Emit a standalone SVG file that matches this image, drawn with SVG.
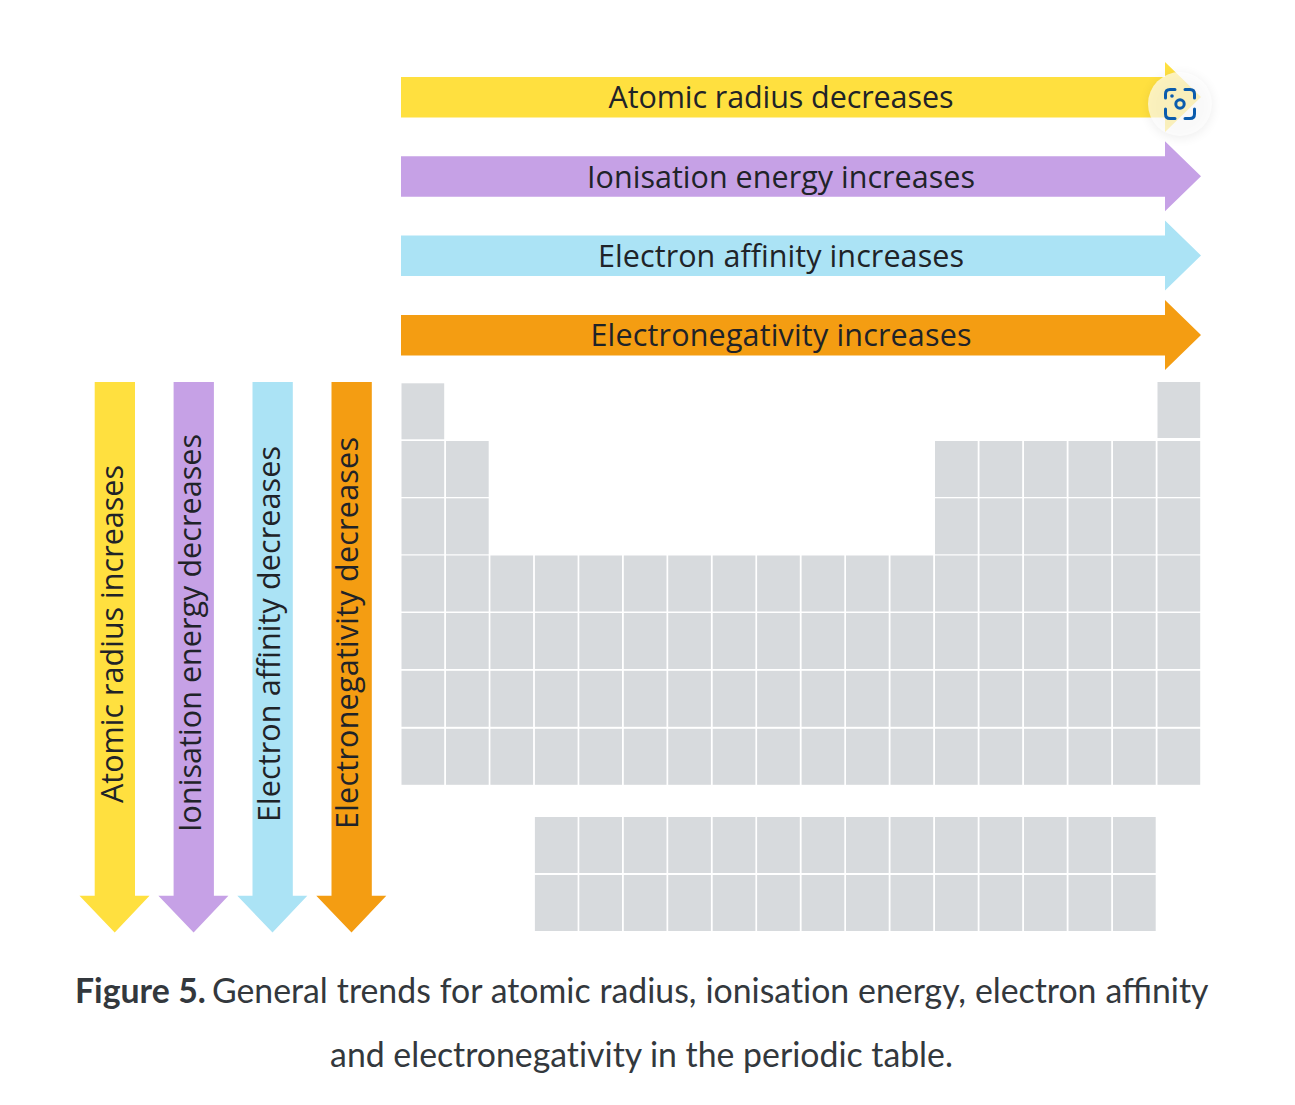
<svg xmlns="http://www.w3.org/2000/svg" width="1295" height="1105" viewBox="0 0 1295 1105">
<style>
.c{fill:#d7dadd}
.t{font-family:"Open Sans","Noto Sans",sans-serif;font-size:30.500px;fill:#1f2328;text-anchor:middle;font-variant-ligatures:common-ligatures}
.cap{font-family:Lato,sans-serif;font-size:33.800px;fill:#33383d;font-variant-ligatures:none}
.lig{font-variant-ligatures:common-ligatures}
.y{fill:#ffe03f}.p{fill:#c6a1e6}.b{fill:#abe3f5}.o{fill:#f49d12}
</style>
<defs>
<rect id="cell" class="c" width="42.7" height="56"/>
<path id="h" d="M401 77H1165V62L1201 97L1165 132V117.500H401Z"/>
<path id="v" d="M94.700 382H135V895.700H149.500L114.700 932.500L79.500 895.700H94.700Z"/>
<filter id="sh" x="-40%" y="-40%" width="180%" height="180%"><feGaussianBlur stdDeviation="6"/></filter>
</defs>
<rect width="1295" height="1105" fill="#fff"/>
<g id="horizontal-arrows">
<g id="h-radius"><use href="#h" class="y"/><text class="t" x="781" y="108" textLength="345" lengthAdjust="spacing">Atomic radius decreases</text></g>
<g id="h-ionisation"><use href="#h" y="79.300" class="p"/><text class="t" x="781" y="188" textLength="388" lengthAdjust="spacing">Ionisation energy increases</text></g>
<g id="h-affinity"><use href="#h" y="158.600" class="b"/><text class="t" x="781" y="267" textLength="366" lengthAdjust="spacing">Electron affinity increases</text></g>
<g id="h-electronegativity"><use href="#h" y="238" class="o"/><text class="t" x="781" y="346" textLength="381" lengthAdjust="spacing">Electronegativity increases</text></g>
</g>
<g id="vertical-arrows">
<g id="v-radius"><use href="#v" class="y"/><text class="t" transform="translate(123 634) rotate(-90)" textLength="338" lengthAdjust="spacing">Atomic radius increases</text></g>
<g id="v-ionisation"><use href="#v" x="78.900" class="p"/><text class="t" transform="translate(201 633) rotate(-90)" textLength="398" lengthAdjust="spacing">Ionisation energy decreases</text></g>
<g id="v-affinity"><use href="#v" x="157.800" class="b"/><text class="t" transform="translate(280 634) rotate(-90)" textLength="376" lengthAdjust="spacing">Electron affinity decreases</text></g>
<g id="v-electronegativity"><use href="#v" x="236.800" class="o"/><text class="t" transform="translate(358 633) rotate(-90)" textLength="392" lengthAdjust="spacing">Electronegativity decreases</text></g>
</g>
<g id="periodic-table">
<use href="#cell" x="401.500" y="383.300"/><use href="#cell" x="1157.500" y="382"/>
<g id="row2"><use href="#cell" x="401.500" y="441"/><use href="#cell" x="446" y="441"/><use href="#cell" x="935" y="441"/><use href="#cell" x="979.500" y="441"/><use href="#cell" x="1024" y="441"/><use href="#cell" x="1068.500" y="441"/><use href="#cell" x="1113" y="441"/><use href="#cell" x="1157.500" y="441"/></g>
<g id="row3"><use href="#cell" x="401.500" y="498.300"/><use href="#cell" x="446" y="498.300"/><use href="#cell" x="935" y="498.300"/><use href="#cell" x="979.500" y="498.300"/><use href="#cell" x="1024" y="498.300"/><use href="#cell" x="1068.500" y="498.300"/><use href="#cell" x="1113" y="498.300"/><use href="#cell" x="1157.500" y="498.300"/></g>
<g id="row4"><use href="#cell" x="401.500" y="555.500"/><use href="#cell" x="446" y="555.500"/><use href="#cell" x="490.400" y="555.500"/><use href="#cell" x="534.900" y="555.500"/><use href="#cell" x="579.300" y="555.500"/><use href="#cell" x="623.800" y="555.500"/><use href="#cell" x="668.200" y="555.500"/><use href="#cell" x="712.700" y="555.500"/><use href="#cell" x="757.100" y="555.500"/><use href="#cell" x="801.600" y="555.500"/><use href="#cell" x="846" y="555.500"/><use href="#cell" x="890.500" y="555.500"/><use href="#cell" x="935" y="555.500"/><use href="#cell" x="979.500" y="555.500"/><use href="#cell" x="1024" y="555.500"/><use href="#cell" x="1068.500" y="555.500"/><use href="#cell" x="1113" y="555.500"/><use href="#cell" x="1157.500" y="555.500"/></g>
<g id="row5"><use href="#cell" x="401.500" y="613"/><use href="#cell" x="446" y="613"/><use href="#cell" x="490.400" y="613"/><use href="#cell" x="534.900" y="613"/><use href="#cell" x="579.300" y="613"/><use href="#cell" x="623.800" y="613"/><use href="#cell" x="668.200" y="613"/><use href="#cell" x="712.700" y="613"/><use href="#cell" x="757.100" y="613"/><use href="#cell" x="801.600" y="613"/><use href="#cell" x="846" y="613"/><use href="#cell" x="890.500" y="613"/><use href="#cell" x="935" y="613"/><use href="#cell" x="979.500" y="613"/><use href="#cell" x="1024" y="613"/><use href="#cell" x="1068.500" y="613"/><use href="#cell" x="1113" y="613"/><use href="#cell" x="1157.500" y="613"/></g>
<g id="row6"><use href="#cell" x="401.500" y="670.800"/><use href="#cell" x="446" y="670.800"/><use href="#cell" x="490.400" y="670.800"/><use href="#cell" x="534.900" y="670.800"/><use href="#cell" x="579.300" y="670.800"/><use href="#cell" x="623.800" y="670.800"/><use href="#cell" x="668.200" y="670.800"/><use href="#cell" x="712.700" y="670.800"/><use href="#cell" x="757.100" y="670.800"/><use href="#cell" x="801.600" y="670.800"/><use href="#cell" x="846" y="670.800"/><use href="#cell" x="890.500" y="670.800"/><use href="#cell" x="935" y="670.800"/><use href="#cell" x="979.500" y="670.800"/><use href="#cell" x="1024" y="670.800"/><use href="#cell" x="1068.500" y="670.800"/><use href="#cell" x="1113" y="670.800"/><use href="#cell" x="1157.500" y="670.800"/></g>
<g id="row7"><use href="#cell" x="401.500" y="728.800"/><use href="#cell" x="446" y="728.800"/><use href="#cell" x="490.400" y="728.800"/><use href="#cell" x="534.900" y="728.800"/><use href="#cell" x="579.300" y="728.800"/><use href="#cell" x="623.800" y="728.800"/><use href="#cell" x="668.200" y="728.800"/><use href="#cell" x="712.700" y="728.800"/><use href="#cell" x="757.100" y="728.800"/><use href="#cell" x="801.600" y="728.800"/><use href="#cell" x="846" y="728.800"/><use href="#cell" x="890.500" y="728.800"/><use href="#cell" x="935" y="728.800"/><use href="#cell" x="979.500" y="728.800"/><use href="#cell" x="1024" y="728.800"/><use href="#cell" x="1068.500" y="728.800"/><use href="#cell" x="1113" y="728.800"/><use href="#cell" x="1157.500" y="728.800"/></g>
<g id="lower1"><use href="#cell" x="534.900" y="817"/><use href="#cell" x="579.300" y="817"/><use href="#cell" x="623.800" y="817"/><use href="#cell" x="668.200" y="817"/><use href="#cell" x="712.700" y="817"/><use href="#cell" x="757.100" y="817"/><use href="#cell" x="801.600" y="817"/><use href="#cell" x="846" y="817"/><use href="#cell" x="890.500" y="817"/><use href="#cell" x="935" y="817"/><use href="#cell" x="979.500" y="817"/><use href="#cell" x="1024" y="817"/><use href="#cell" x="1068.500" y="817"/><use href="#cell" x="1113" y="817"/></g>
<g id="lower2"><use href="#cell" x="534.900" y="875"/><use href="#cell" x="579.300" y="875"/><use href="#cell" x="623.800" y="875"/><use href="#cell" x="668.200" y="875"/><use href="#cell" x="712.700" y="875"/><use href="#cell" x="757.100" y="875"/><use href="#cell" x="801.600" y="875"/><use href="#cell" x="846" y="875"/><use href="#cell" x="890.500" y="875"/><use href="#cell" x="935" y="875"/><use href="#cell" x="979.500" y="875"/><use href="#cell" x="1024" y="875"/><use href="#cell" x="1068.500" y="875"/><use href="#cell" x="1113" y="875"/></g>
</g>
<g id="lens-button">
<circle cx="1180" cy="106" r="32" fill="#000" opacity=".07" filter="url(#sh)"/>
<circle cx="1180" cy="104" r="32" fill="#fff" opacity=".66"/>
<g fill="none" stroke="#0b5cad" stroke-width="3" stroke-linecap="round">
<path d="M1165.500 98V94Q1165.500 89.500 1170 89.500H1175M1185 89.500H1190Q1194.500 89.500 1194.500 94V98M1194.500 109V114Q1194.500 118.500 1190 118.500H1185M1175 118.500H1170Q1165.500 118.500 1165.500 114V109"/>
<circle cx="1180" cy="104" r="4.200"/>
</g>
<circle cx="1172" cy="96" r="1.800" fill="#0b5cad"/>
</g>
<g id="caption">
<text class="cap" x="75" y="1003" word-spacing=".3"><tspan font-weight="700">Figure 5.</tspan><tspan x="212">General trends for atomic radius, ionisation energy, electron </tspan><tspan class="lig">affinity</tspan></text>
<text class="cap" x="641.500" y="1067" text-anchor="middle">and electronegativity in the periodic table.</text>
</g>
</svg>
